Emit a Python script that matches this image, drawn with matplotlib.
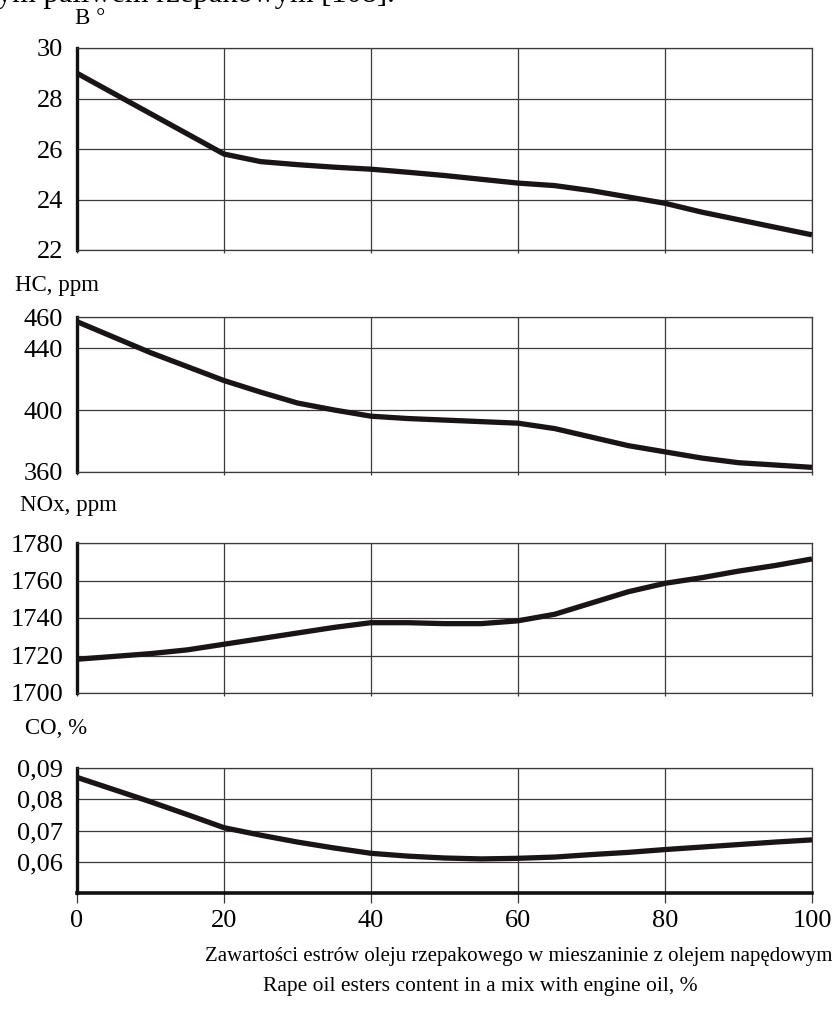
import matplotlib
matplotlib.use("Agg")
import matplotlib.pyplot as plt

plt.rcParams["font.family"] = ["Liberation Serif", "DejaVu Serif"]

# Rape oil ester content, %
ester_pct = [0, 5, 10, 15, 20, 25, 30, 35, 40, 45, 50, 55, 60, 65, 70, 75, 80, 85, 90, 95, 100]

# Injection advance angle, deg
b_deg = [29.0, 28.2, 27.4, 26.6, 25.8, 25.5, 25.38, 25.28, 25.2, 25.08, 24.95,
         24.8, 24.65, 24.55, 24.35, 24.1, 23.85, 23.5, 23.2, 22.9, 22.6]
# Hydrocarbons, ppm
hc_ppm = [457, 447, 437, 428, 419, 411.5, 404.5, 400, 396, 394.5, 393.5,
          392.5, 391.5, 388, 382.5, 377, 373, 369, 366, 364.5, 363]
# Nitrogen oxides, ppm
nox_ppm = [1718, 1719.5, 1721, 1723, 1726, 1729, 1732, 1735, 1737.5, 1737.5, 1737,
           1737, 1738.5, 1742, 1748, 1754, 1758.5, 1761.5, 1765, 1768, 1771.5]
# Carbon monoxide, %
co_pct = [0.0870, 0.0831, 0.0792, 0.0751, 0.0709, 0.0685, 0.0663, 0.0644, 0.0627, 0.0618,
          0.0612, 0.0609, 0.0611, 0.0615, 0.0623, 0.0630, 0.0639, 0.0647, 0.0655, 0.0663, 0.0670]

x_ticks = [0, 20, 40, 60, 80, 100]

panels = [
    dict(y=b_deg, title="B °", ylim=(22, 30), yticks=[22, 24, 26, 28, 30],
         ylabels=["22", "24", "26", "28", "30"], top=48, bottom=250, title_x=75, title_y=19),
    dict(y=hc_ppm, title="HC, ppm", ylim=(360, 460), yticks=[360, 400, 440, 460],
         ylabels=["360", "400", "440", "460"], top=317, bottom=472, title_x=15, title_y=286),
    dict(y=nox_ppm, title="NOx, ppm", ylim=(1700, 1780), yticks=[1700, 1720, 1740, 1760, 1780],
         ylabels=["1700", "1720", "1740", "1760", "1780"], top=543, bottom=693, title_x=20, title_y=506),
    dict(y=co_pct, title="CO, %", ylim=(0.05, 0.09), yticks=[0.06, 0.07, 0.08, 0.09],
         ylabels=["0,06", "0,07", "0,08", "0,09"], top=768, bottom=893, title_x=25, title_y=729),
]

W, H = 838, 1023
fig = plt.figure(figsize=(W / 100, H / 100), dpi=100)
left_px, right_px = 77, 812

grid_color = "#3a3a3a"
line_color = "#1a1414"

for i, p in enumerate(panels):
    last = i == len(panels) - 1
    ax = fig.add_axes([left_px / W, 1 - p["bottom"] / H,
                       (right_px - left_px) / W, (p["bottom"] - p["top"]) / H])
    ax.plot(ester_pct, p["y"], color=line_color, lw=3.8, solid_capstyle="butt",
            solid_joinstyle="round", clip_on=False, zorder=3)
    ax.set_xlim(0, 100)
    ax.set_ylim(*p["ylim"])
    ax.set_yticks(p["yticks"])
    ax.set_yticklabels(p["ylabels"])
    ax.set_xticks(x_ticks)
    ax.grid(True, color=grid_color, lw=0.9)
    for side in ("top", "right", "bottom"):
        ax.spines[side].set_color(grid_color)
        ax.spines[side].set_linewidth(0.9)
    ax.spines["left"].set_color("#111111")
    ax.spines["left"].set_linewidth(2.4)
    ax.tick_params(axis="y", length=0, pad=10, labelsize=19)
    if last:
        ax.spines["bottom"].set_color("#111111")
        ax.spines["bottom"].set_linewidth(2.6)
        ax.tick_params(axis="x", length=7, width=0.9, color=grid_color, pad=5, labelsize=19)
    else:
        ax.tick_params(axis="x", length=2, width=0.9, color=grid_color, labelbottom=False)
    fig.text(p["title_x"] / W, 1 - p["title_y"] / H, p["title"], fontsize=16.5,
             ha="left", va="center")

fig.text(832 / W, 1 - 956 / H,
         "Zawartości estrów oleju rzepakowego w mieszaninie z olejem napędowym",
         fontsize=15, ha="right", va="center")
fig.text(480 / W, 1 - 986 / H, "Rape oil esters content in a mix with engine oil, %",
         fontsize=15.5, ha="center", va="center")
fig.text(-3 / W, 1 - 2 / H, "ym paliwem rzepakowym [108].", fontsize=22,
         ha="left", va="baseline")

fig.savefig("out.png", dpi=100)
